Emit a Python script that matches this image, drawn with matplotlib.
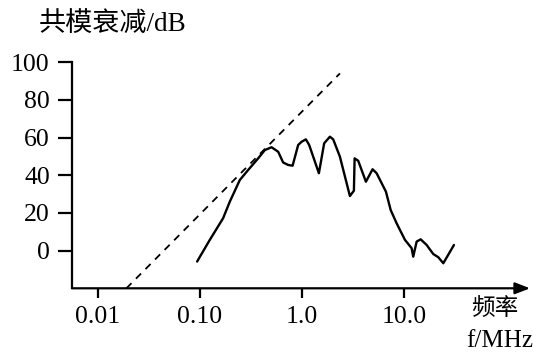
import matplotlib
matplotlib.use("Agg")
import matplotlib.pyplot as plt

# Measured common-mode attenuation versus frequency
freq_mhz = [0.0941, 0.1253, 0.1692, 0.1968, 0.2466, 0.2975, 0.3732, 0.4339,
            0.5046, 0.5861, 0.6555, 0.734, 0.811, 0.920, 0.993, 1.094, 1.179,
            1.468, 1.654, 1.882, 2.027, 2.358, 2.955, 3.234, 3.286, 3.565,
            4.24, 4.93, 5.40, 6.66, 7.41, 8.48, 10.23, 11.89, 12.33, 13.32,
            14.58, 16.69, 19.37, 21.7, 24.3, 30.9]
atten_db = [-5.8, 5.7, 17.2, 26.0, 37.5, 42.8, 49.0, 53.4, 54.9, 52.5, 46.8,
            45.5, 45.1, 56.1, 57.8, 59.1, 56.1, 41.1, 57.0, 60.5, 59.1, 49.9,
            29.0, 31.8, 49.0, 47.7, 36.6, 43.2, 41.1, 31.3, 21.6, 14.5, 5.7,
            1.3, -3.2, 4.8, 6.0, 3.0, -1.8, -3.5, -6.7, 3.0]

# Asymptote (dashed reference line)
asym_freq = [0.0191, 2.36]
asym_db = [-20, 94.1]

x_ticks = [0.01, 0.1, 1.0, 10.0]
x_tick_labels = ["0.01", "0.10", "1.0", "10.0"]
y_ticks = [0, 20, 40, 60, 80, 100]

serif = ["Liberation Serif", "Noto Sans CJK SC"]
plt.rcParams["font.family"] = serif

fig = plt.figure(figsize=(5.33, 3.53), dpi=100)
ax = fig.add_axes([0.1351, 0.1833, 0.9944 - 0.1351, 0.6402])

ax.plot(freq_mhz, atten_db, color="black", lw=1.7,
        solid_joinstyle="round", solid_capstyle="round")
ax.plot(asym_freq, asym_db, color="black", lw=1.3, dashes=(4, 3.5))

ax.set_xscale("log")
xmin, xmax = 0.0056, 171.8
ax.set_xlim(xmin, xmax)
ax.set_ylim(-20, 100)

ax.set_xticks(x_ticks)
ax.set_xticklabels(x_tick_labels)
ax.minorticks_off()
ax.set_yticks(y_ticks)

for s in ["top", "right", "bottom"]:
    ax.spines[s].set_visible(False)
ax.spines["left"].set_linewidth(1.6)

ax.tick_params(axis="y", direction="out", length=10, width=1.6, pad=6,
               labelsize=18.5)
ax.tick_params(axis="x", direction="out", length=7, width=1.6, pad=6,
               labelsize=18.5)

# Horizontal axis drawn as an arrow
ax.annotate("", xy=(xmax, -20), xytext=(xmin, -20),
            xycoords="data", textcoords="data", annotation_clip=False,
            arrowprops=dict(arrowstyle="-|>,head_length=0.9,head_width=0.35",
                            color="black", lw=1.6, shrinkA=0, shrinkB=0))

fig.text(39 / 533, 1 - 24 / 353, "共模衰减/dB", fontsize=19.5,
         ha="left", va="center", family=serif)
fig.text(495 / 533, 1 - 309 / 353, "频率", fontsize=17,
         ha="center", va="center", family=serif)
fig.text(500 / 533, 1 - 341 / 353, "f/MHz", fontsize=18,
         ha="center", va="center", family=serif)

fig.savefig("out.png", dpi=100)
